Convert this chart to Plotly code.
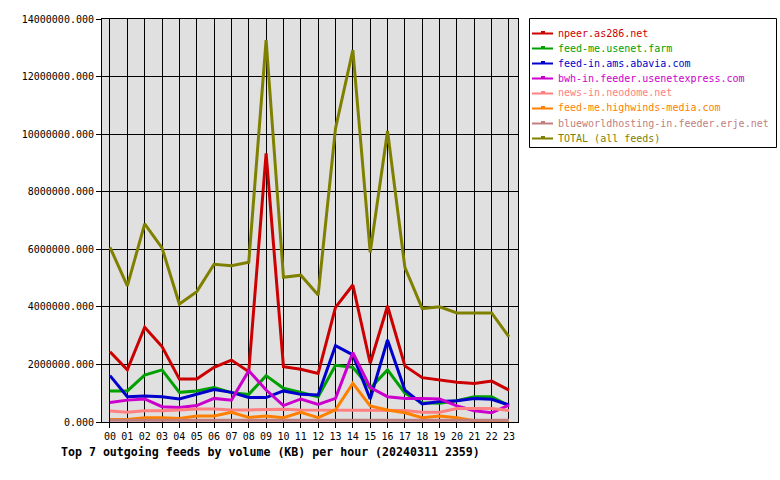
import plotly.graph_objects as go

hours = ["00","01","02","03","04","05","06","07","08","09","10","11",
         "12","13","14","15","16","17","18","19","20","21","22","23"]

npeer = [2.44e6,1.81e6,3.29e6,2.62e6,1.49e6,1.49e6,1.90e6,2.15e6,1.75e6,9.33e6,1.92e6,1.83e6,
         1.69e6,3.98e6,4.76e6,2.04e6,4.03e6,1.95e6,1.54e6,1.46e6,1.38e6,1.34e6,1.42e6,1.11e6]
usenet_farm = [1.08e6,1.08e6,1.63e6,1.81e6,1.03e6,1.08e6,1.20e6,1.02e6,0.96e6,1.61e6,1.17e6,1.02e6,
               0.88e6,1.97e6,1.90e6,1.17e6,1.81e6,1.00e6,0.67e6,0.65e6,0.74e6,0.88e6,0.88e6,0.56e6]
abavia = [1.61e6,0.88e6,0.90e6,0.88e6,0.80e6,0.97e6,1.13e6,1.03e6,0.85e6,0.85e6,1.08e6,0.96e6,
          0.94e6,2.65e6,2.33e6,0.80e6,2.85e6,1.11e6,0.63e6,0.71e6,0.74e6,0.82e6,0.79e6,0.59e6]
bwh = [0.68e6,0.76e6,0.80e6,0.53e6,0.50e6,0.57e6,0.82e6,0.76e6,1.78e6,1.11e6,0.57e6,0.80e6,
       0.61e6,0.82e6,2.41e6,1.20e6,0.88e6,0.82e6,0.82e6,0.80e6,0.56e6,0.39e6,0.32e6,0.59e6]
neodome = [0.38e6,0.34e6,0.39e6,0.39e6,0.42e6,0.45e6,0.45e6,0.42e6,0.42e6,0.44e6,0.44e6,0.42e6,
           0.42e6,0.42e6,0.42e6,0.41e6,0.41e6,0.40e6,0.34e6,0.34e6,0.47e6,0.47e6,0.47e6,0.40e6]
highwinds = [0.09e6,0.09e6,0.15e6,0.15e6,0.12e6,0.21e6,0.21e6,0.34e6,0.16e6,0.21e6,0.15e6,0.34e6,
             0.15e6,0.42e6,1.34e6,0.56e6,0.42e6,0.32e6,0.15e6,0.21e6,0.15e6,0.04e6,0.04e6,0.04e6]
erje = [0.06e6,0.06e6,0.06e6,0.06e6,0.06e6,0.06e6,0.07e6,0.07e6,0.06e6,0.06e6,0.06e6,0.06e6,
        0.06e6,0.06e6,0.06e6,0.06e6,0.06e6,0.06e6,0.06e6,0.06e6,0.06e6,0.06e6,0.06e6,0.06e6]
total = [6.07e6,4.73e6,6.88e6,6.05e6,4.10e6,4.53e6,5.48e6,5.43e6,5.55e6,13.27e6,5.03e6,5.10e6,
         4.41e6,10.20e6,12.92e6,5.89e6,10.11e6,5.37e6,3.94e6,4.00e6,3.79e6,3.79e6,3.79e6,2.96e6]

names = ["npeer.as286.net", "feed-me.usenet.farm", "feed-in.ams.abavia.com",
         "bwh-in.feeder.usenetexpress.com", "news-in.neodome.net",
         "feed-me.highwinds-media.com", "blueworldhosting-in.feeder.erje.net",
         "TOTAL (all feeds)"]
series = [npeer, usenet_farm, abavia, bwh, neodome, highwinds, erje, total]
colors = ["#cc0000", "#00a000", "#0000cc", "#cc00cc", "#ff8080", "#ff8000", "#c08080", "#808000"]

title_text = "Top 7 outgoing feeds by volume (KB) per hour (20240311 2359)"
yticks = [0, 2e6, 4e6, 6e6, 8e6, 10e6, 12e6, 14e6]

MONO = "DejaVu Sans Mono"

fig = go.Figure()
xs = list(range(len(hours)))
for name, vals, col in zip(names, series, colors):
    fig.add_trace(go.Scatter(x=xs, y=vals, mode="lines", name=name,
                             line=dict(color=col, width=3), showlegend=False))

# plot area in pixels: x 102..518, y 19..422
L, R, T, B = 102, 518, 19, 422
W, H = R - L, B - T

def px(xp):
    return (xp - L) / W

def py(yp):
    return (B - yp) / H

shapes = []
annotations = []
# legend box
shapes.append(dict(type="rect", xref="paper", yref="paper",
                   x0=px(529.5), x1=px(776.5), y0=py(147.5), y1=py(18.5),
                   line=dict(color="black", width=1), fillcolor="white", layer="above"))
for i, (name, col) in enumerate(zip(names, colors)):
    yrow = 33 + 15 * i
    shapes.append(dict(type="line", xref="paper", yref="paper",
                       x0=px(532), x1=px(553), y0=py(yrow + 0.5), y1=py(yrow + 0.5),
                       line=dict(color=col, width=2), layer="above"))
    shapes.append(dict(type="rect", xref="paper", yref="paper",
                       x0=px(541), x1=px(545), y0=py(yrow + 0.5), y1=py(yrow - 2),
                       line=dict(width=0), fillcolor=col, layer="above"))
    annotations.append(dict(text=name, xref="paper", yref="paper",
                            x=px(556), y=py(yrow), xanchor="left", yanchor="middle",
                            showarrow=False, font=dict(family=MONO, size=10, color=col)))

annotations.append(dict(text="<b>" + title_text + "</b>", xref="paper", yref="paper",
                        x=px(59), y=py(452), xanchor="left", yanchor="middle",
                        showarrow=False, font=dict(family=MONO, size=11.6, color="black")))

fig.update_layout(
    width=780, height=480,
    margin=dict(l=L, r=780 - R, t=T, b=480 - B, pad=0),
    paper_bgcolor="white", plot_bgcolor="#e0e0e0",
    showlegend=False,
    shapes=shapes, annotations=annotations,
    font=dict(family=MONO, size=10, color="black"),
)
fig.update_xaxes(range=[-0.46, 23.52], tickmode="array", tickvals=xs, ticktext=hours,
                 showgrid=True, gridcolor="black", gridwidth=1,
                 showline=True, linecolor="black", linewidth=1, mirror=True,
                 ticks="outside", ticklen=5, tickcolor="black", zeroline=False,
                 tickfont=dict(family=MONO, size=10, color="black"))
fig.update_yaxes(range=[0, 14e6], tickmode="array", tickvals=yticks,
                 ticktext=[f"{v:.3f}" for v in yticks],
                 showgrid=True, gridcolor="black", gridwidth=1,
                 showline=True, linecolor="black", linewidth=1, mirror=True,
                 ticks="outside", ticklen=5, tickcolor="black", zeroline=False,
                 tickfont=dict(family=MONO, size=10, color="black"))

fig.write_html("out.html", config={"displayModeBar": False},
               post_script="document.body.style.margin='0';document.body.style.padding='0';")
